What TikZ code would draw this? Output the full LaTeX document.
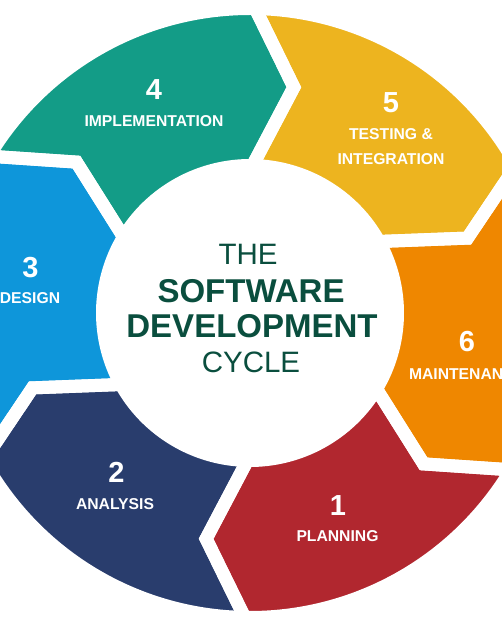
\documentclass[tikz,border=0pt]{standalone}
\usepackage{fontspec}
\setmainfont{Liberation Sans}
\definecolor{cteal}{HTML}{139C87}
\definecolor{cyellow}{HTML}{EDB41F}
\definecolor{corange}{HTML}{EF8700}
\definecolor{cred}{HTML}{B1272F}
\definecolor{cnavy}{HTML}{293D6D}
\definecolor{cblue}{HTML}{0E96DA}
\definecolor{ctext}{HTML}{0A4E3E}
\begin{document}
\begin{tikzpicture}[
  gapline/.style={draw=white, line width=13pt, line join=miter},
  num/.style={text=white, font=\bfseries\fontsize{29}{29}\selectfont, inner sep=0pt, anchor=base},
  lab/.style={text=white, font=\bfseries\fontsize{15.7}{16}\selectfont, inner sep=0pt, anchor=base},
  ttlreg/.style={text=ctext, font=\fontsize{29.5}{30}\selectfont, inner sep=0pt, anchor=base},
  ttlbold/.style={text=ctext, font=\bfseries\fontsize{33}{33}\selectfont, inner sep=0pt, anchor=base}
]
\useasboundingbox (0,0) rectangle (502pt,627pt);
\clip (0,0) rectangle (502pt,627pt);
\fill[white] (0,0) rectangle (502pt,627pt);
\def\Ro{304.5pt}\def\Ri{147.5pt}\def\Rm{230pt}
\begin{scope}[shift={(250pt,314pt)}]
\foreach \s/\col in {149/cteal, 89/cyellow, 29/corange, -31/cred, -91/cnavy, 209/cblue} {
  \pgfmathsetmacro\e{\s-60}
  \pgfmathsetmacro\et{\e-10}
  \pgfmathsetmacro\st{\s-10}
  \fill[\col] (\s:\Ro) arc[start angle=\s, end angle=\e, radius=\Ro] -- (\et:\Rm) -- (\e:\Ri)
     arc[start angle=\e, end angle=\s, radius=\Ri] -- (\st:\Rm) -- cycle;
}
\foreach \s in {149, 89, 29, -31, -91, 209} {
  \pgfmathsetmacro\e{\s-60}
  \pgfmathsetmacro\et{\e-10}
  \pgfmathsetmacro\st{\s-10}
  \draw[gapline] (\s:\Ro) arc[start angle=\s, end angle=\e, radius=\Ro] -- (\et:\Rm) -- (\e:\Ri)
     arc[start angle=\e, end angle=\s, radius=\Ri] -- (\st:\Rm) -- cycle;
}
\end{scope}
% labels
\node[num] (n4) at (154pt,527pt) {4};
\node[lab] (l4) at (154pt,500pt) {IMPLEMENTATION};
\node[num] (n5) at (391pt,514pt) {5};
\node[lab] (l5a) at (391pt,487pt) {TESTING \&};
\node[lab] (l5b) at (391pt,462pt) {INTEGRATION};
\node[num] (n3) at (30.5pt,349pt) {3};
\node[lab] (l3) at (30pt,323pt) {DESIGN};
\node[num] (n6) at (467pt,275pt) {6};
\node[lab] (l6) at (467pt,247pt) {MAINTENANCE};
\node[num] (n2) at (116.5pt,144pt) {2};
\node[lab] (l2) at (115pt,117pt) {ANALYSIS};
\node[num] (n1) at (338pt,111pt) {1};
\node[lab] (l1) at (337.5pt,85pt) {PLANNING};
% title
\node[ttlreg] (t1) at (248pt,362pt) {THE};
\node[ttlbold] (t2) at (251pt,324pt) {SOFTWARE};
\node[ttlbold] (t3) at (252pt,289pt) {DEVELOPMENT};
\node[ttlreg] (t4) at (251pt,254pt) {CYCLE};
\end{tikzpicture}
\end{document}
